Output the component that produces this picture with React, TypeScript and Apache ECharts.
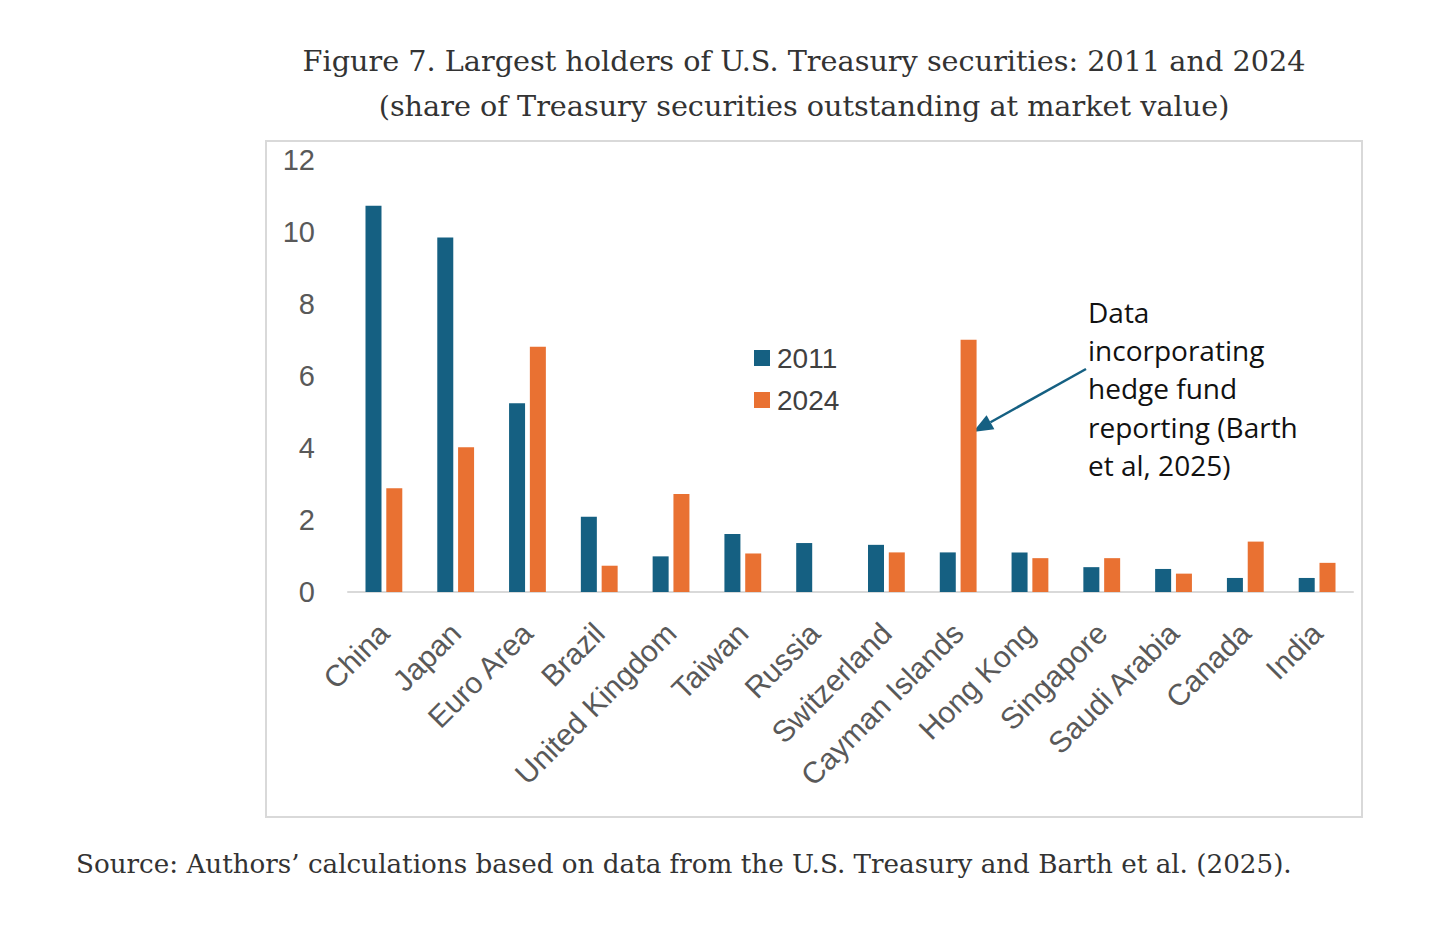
import React, { useEffect, useRef } from "react";
import * as echarts from "echarts";

const categories = [
  "China", "Japan", "Euro Area", "Brazil", "United Kingdom", "Taiwan", "Russia",
  "Switzerland", "Cayman Islands", "Hong Kong", "Singapore", "Saudi Arabia", "Canada", "India",
];
const values2011 = [10.73, 9.85, 5.24, 2.09, 0.99, 1.61, 1.36, 1.31, 1.1, 1.1, 0.69, 0.64, 0.39, 0.39];
const values2024 = [2.88, 4.02, 6.81, 0.73, 2.72, 1.07, 0, 1.1, 7.01, 0.94, 0.94, 0.51, 1.4, 0.81];
const yTicks = [0, 2, 4, 6, 8, 10, 12];
const titleLines = [
  "Figure 7. Largest holders of U.S. Treasury securities: 2011 and 2024",
  "(share of Treasury securities outstanding at market value)",
];
const sourceText = "Source: Authors\u2019 calculations based on data from the U.S. Treasury and Barth et al. (2025).";
const annotationLines = ["Data", "incorporating", "hedge fund", "reporting (Barth", "et al, 2025)"];

const C2011 = "#156082";
const C2024 = "#E97132";

function arrow(x1: number, y1: number, x2: number, y2: number, len: number, half: number) {
  const dx = x2 - x1, dy = y2 - y1;
  const L = Math.sqrt(dx * dx + dy * dy);
  const ux = dx / L, uy = dy / L;
  const bx = x2 - ux * len, by = y2 - uy * len;
  const nx = -uy, ny = ux;
  return {
    line: [x1, y1, bx, by],
    head: [[x2, y2], [bx + nx * half, by + ny * half], [bx - nx * half, by - ny * half]],
  };
}

export default function App() {
  const ref = useRef<HTMLDivElement>(null);
  useEffect(() => {
    document.body.style.margin = "0";
    const chart = echarts.init(ref.current!, null, { renderer: "svg" });
    const a = arrow(1086, 369, 973, 432, 20, 8);
    const serif = "'DejaVu Serif', Georgia, serif";
    const sans = "'Liberation Sans', Arial, sans-serif";
    chart.setOption({
      animation: false,
      backgroundColor: "#ffffff",
      grid: { left: 348, right: 103, top: 160, bottom: 336, containLabel: false },
      legend: {
        orient: "vertical",
        left: 749,
        top: 339,
        itemWidth: 16,
        itemHeight: 16,
        itemGap: 14,
        icon: "rect",
        textStyle: { fontSize: 28, color: "#404040", fontFamily: sans, padding: [0, 0, 0, 2] },
        data: ["2011", "2024"],
      },
      xAxis: {
        type: "category",
        data: categories,
        axisLine: { lineStyle: { color: "#d9d9d9", width: 2 } },
        axisTick: { show: false },
        axisLabel: {
          rotate: 45,
          interval: 0,
          margin: 36,
          fontSize: 30,
          color: "#595959",
          fontFamily: sans,
        },
      },
      yAxis: {
        type: "value",
        min: 0,
        max: 12,
        interval: 2,
        axisLine: { show: false },
        axisTick: { show: false },
        splitLine: { show: false },
        axisLabel: {
          margin: 33,
          fontSize: 29,
          color: "#595959",
          fontFamily: sans,
          formatter: (v: number) => (yTicks.includes(v) ? String(v) : ""),
        },
      },
      series: [
        { name: "2011", type: "bar", data: values2011, itemStyle: { color: C2011 }, barWidth: 16, barGap: "30%" },
        { name: "2024", type: "bar", data: values2024, itemStyle: { color: C2024 }, barWidth: 16, barGap: "30%" },
      ],
      graphic: [
        {
          type: "rect",
          shape: { x: 266, y: 141, width: 1096, height: 676 },
          style: { fill: "none", stroke: "#d9d9d9", lineWidth: 2 },
          silent: true,
          z: -1,
        },
        ...titleLines.map((t, i) => ({
          type: "text",
          x: 804,
          y: 61 + i * 45,
          style: { text: t, fontSize: 28.7, fill: "#333333", fontFamily: serif, align: "center", verticalAlign: "middle" },
        })),
        {
          type: "text",
          x: 76,
          y: 864,
          style: { text: sourceText, fontSize: 26.2, fill: "#333333", fontFamily: serif, align: "left", verticalAlign: "middle" },
        },
        ...annotationLines.map((t, i) => ({
          type: "text",
          x: 1088,
          y: 312 + i * 38.2,
          style: { text: t, fontSize: 28, fill: "#111111", fontFamily: "'Open Sans', 'Noto Sans', sans-serif", align: "left", verticalAlign: "middle" },
        })),
        {
          type: "line",
          shape: { x1: a.line[0], y1: a.line[1], x2: a.line[2], y2: a.line[3] },
          style: { stroke: C2011, lineWidth: 2.5 },
        },
        {
          type: "polygon",
          shape: { points: a.head },
          style: { fill: C2011 },
        },
      ],
    });
    return () => chart.dispose();
  }, []);
  return <div ref={ref} style={{ width: 1456, height: 928 }} />;
}
